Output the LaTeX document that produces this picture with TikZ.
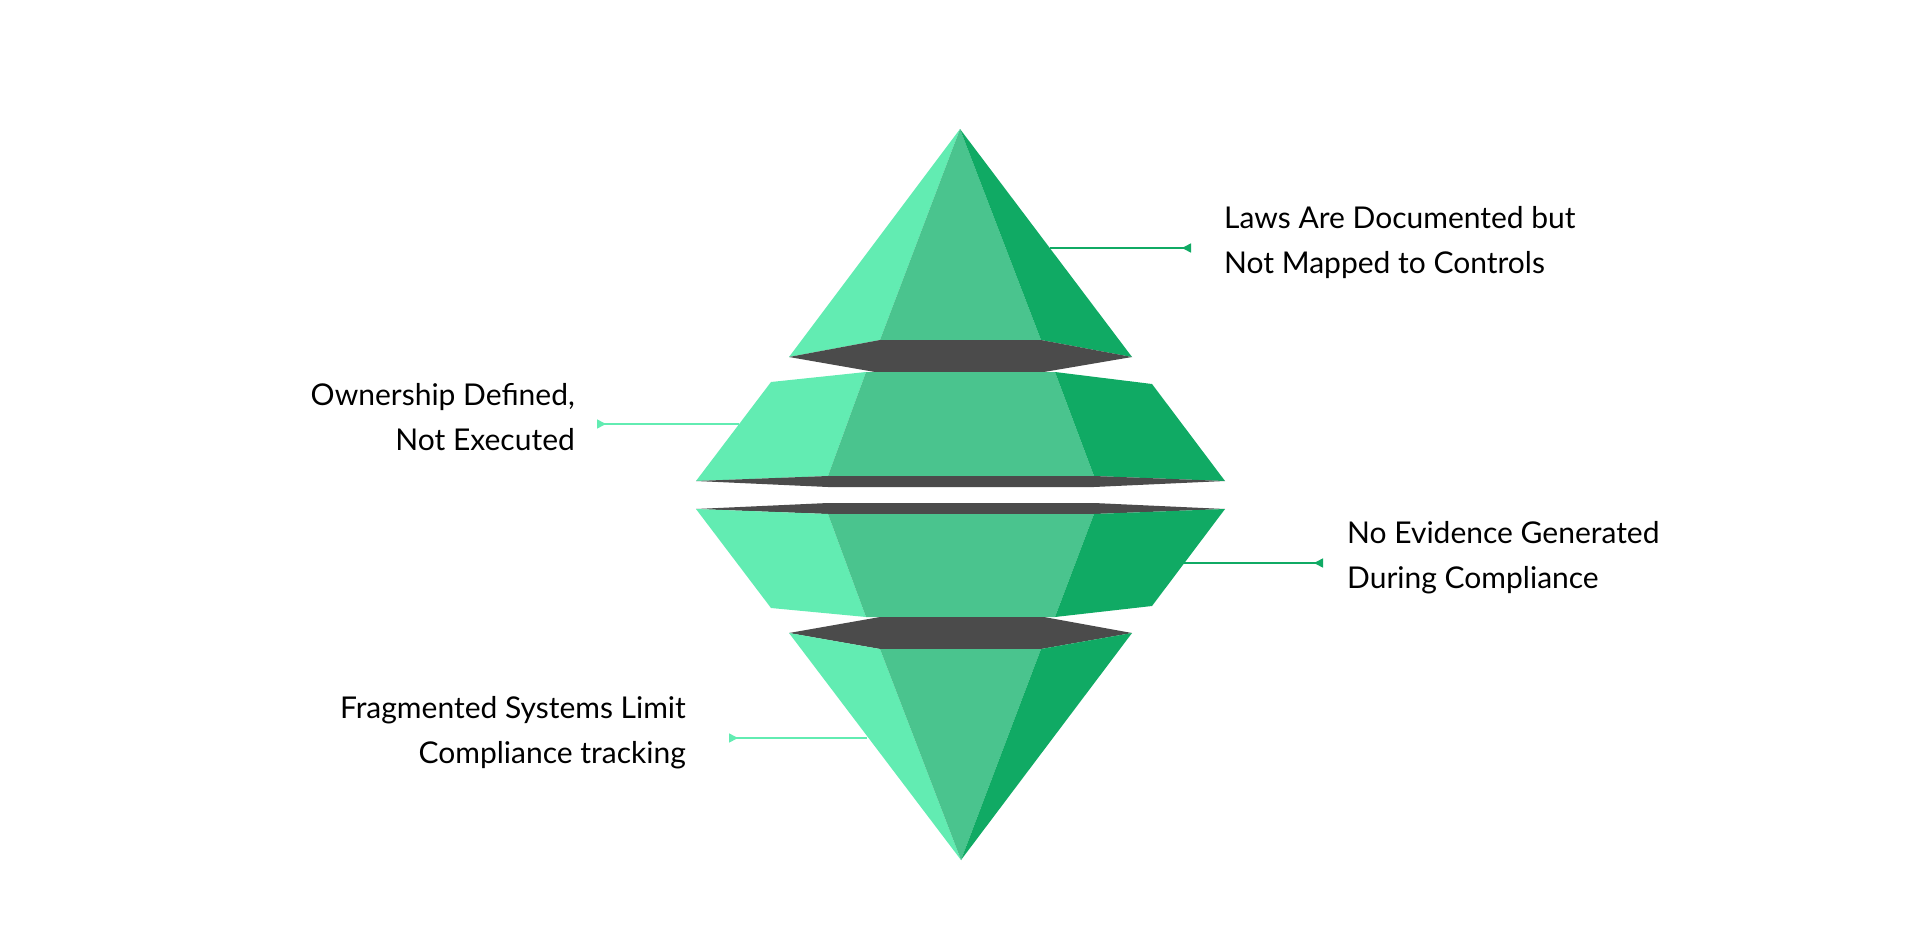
\documentclass[tikz,border=0pt]{standalone}
\usepackage{fontspec}
\setmainfont{Lato}
\usetikzlibrary{arrows.meta}
\definecolor{gl}{HTML}{62ECB2}
\definecolor{gm}{HTML}{4AC48E}
\definecolor{gd}{HTML}{10AA64}
\definecolor{gy}{HTML}{4B4B4B}
\begin{document}
\begin{tikzpicture}[x=1pt,y=-1pt,
  lbl/.style={font=\fontsize{30}{45}\selectfont, text=black, inner sep=0pt, align=left},
  lblr/.style={lbl, align=right},
  conn/.style={line width=1.6pt, -{Triangle[reversed,length=9pt,width=9pt]}}]
\useasboundingbox (0,0) rectangle (1920,950);
% piece 1 (top)
\fill[gl] (960,129) -- (789,357) -- (880,340) -- cycle;
\fill[gm] (960,129) -- (880,340) -- (1041,340) -- cycle;
\fill[gd] (960,129) -- (1041,340) -- (1132,357) -- cycle;
\fill[gy] (789,357) -- (880,340) -- (1041,340) -- (1132,357) -- (1044,372) -- (875,372) -- cycle;
% piece 2
\fill[gl] (771,382) -- (866,372) -- (828,476) -- (696,481) -- cycle;
\fill[gm] (866,372) -- (1055,372) -- (1094,476) -- (828,476) -- cycle;
\fill[gd] (1055,372) -- (1152,384) -- (1225,481) -- (1094,476) -- cycle;
\fill[gy] (696,481) -- (828,476) -- (1094,476) -- (1225,481) -- (1094,487) -- (828,487) -- cycle;
% piece 3
\fill[gy] (696,509) -- (828,503) -- (1094,503) -- (1225,509) -- (1094,514) -- (828,514) -- cycle;
\fill[gl] (696,509) -- (828,514) -- (866,617) -- (771,608) -- cycle;
\fill[gm] (828,514) -- (1094,514) -- (1055,617) -- (866,617) -- cycle;
\fill[gd] (1094,514) -- (1225,509) -- (1152,606) -- (1055,617) -- cycle;
% piece 4 (bottom)
\fill[gy] (789,633) -- (880,617) -- (1044,617) -- (1132,633) -- (1041,649) -- (880,649) -- cycle;
\fill[gl] (789,633) -- (880,649) -- (961,860) -- cycle;
\fill[gm] (880,649) -- (1041,649) -- (961,860) -- cycle;
\fill[gd] (1041,649) -- (1132,633) -- (961,860) -- cycle;
% labels
\node[lbl, anchor=north west] (t1) at (1224,206) {Laws Are Documented but\\Not Mapped to Controls};
\node[lblr, anchor=north east] (t2) at (575,383) {Ownership Defined,\\Not Executed};
\node[lbl, anchor=north west] (t3) at (1347,521) {No Evidence Generated\\During Compliance};
\node[lblr, anchor=north east] (t4) at (686,696) {Fragmented Systems Limit\\Compliance tracking};
% connectors
\coordinate (p1) at (1050,248); \coordinate (e1) at (1191,248);
\coordinate (p2) at (739,424);  \coordinate (e2) at (597,424);
\coordinate (p3) at (1184,563); \coordinate (e3) at (1323,563);
\coordinate (p4) at (867,738);  \coordinate (e4) at (729,738);
\draw[conn, gd] (p1) -- (e1);
\draw[conn, gl] (p2) -- (e2);
\draw[conn, gd] (p3) -- (e3);
\draw[conn, gl] (p4) -- (e4);
\end{tikzpicture}
\end{document}
